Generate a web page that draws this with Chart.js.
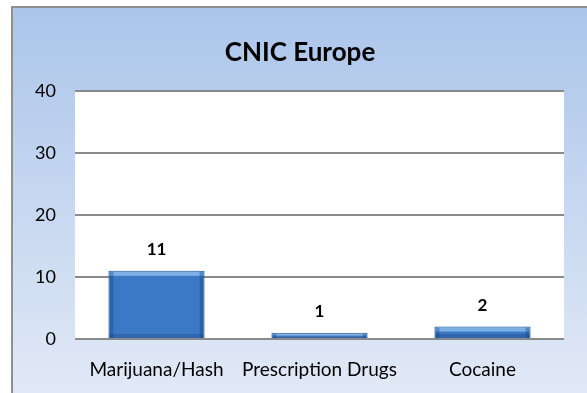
<!DOCTYPE html>
<html>
<head>
<meta charset="utf-8">
<script src="https://cdn.jsdelivr.net/npm/chart.js@4"></script>
<style>
  html, body { margin: 0; padding: 0; background: #fff; }
  #wrap { width: 587px; height: 393px; position: relative; }
</style>
</head>
<body>
<div id="wrap"><canvas id="drugChart" width="587" height="393"></canvas></div>
<script>
const categories = ["Marijuana/Hash", "Prescription Drugs", "Cocaine"];
const counts = [11, 1, 2];
const yTicks = [0, 10, 20, 30, 40];
const chartTitle = "CNIC Europe";

const fontFamily = "Lato, 'Liberation Sans', sans-serif";

// panel background + white plot area + title (centred on the whole panel)
const panelBackground = {
    id: "panelBackground",
    beforeDraw(chart) {
        let ctx = chart.ctx;
        let area = chart.chartArea;
        ctx.save();
        let g = ctx.createLinearGradient(0, 7, 0, chart.height);
        g.addColorStop(0, "#abc5ea");
        g.addColorStop(1, "#e1e9f6");
        ctx.fillStyle = g;
        ctx.fillRect(12, 7, chart.width, chart.height);
        ctx.strokeStyle = "#8f8f8f";
        ctx.lineWidth = 2;
        ctx.strokeRect(12, 7, chart.width + 10, chart.height + 10);
        ctx.fillStyle = "#ffffff";
        ctx.fillRect(area.left, area.top, area.right - area.left, area.bottom - area.top);

        ctx.fillStyle = "#000";
        ctx.font = "bold 26px " + fontFamily;
        ctx.textAlign = "center";
        ctx.textBaseline = "middle";
        ctx.fillText(chartTitle, 300, 53);
        ctx.restore();
    }
};

// bevel look and value labels
const barDecor = {
    id: "barDecor",
    afterDatasetsDraw(chart) {
        let ctx = chart.ctx;
        let meta = chart.getDatasetMeta(0);
        ctx.save();
        meta.data.forEach((bar, i) => {
            let left = bar.x - bar.width / 2;
            let right = bar.x + bar.width / 2;
            let top = bar.y;
            let bottom = bar.base;
            let h = bottom - top;
            let edge = Math.min(4, h / 2);
            // lighter top strip
            ctx.fillStyle = "rgba(150,195,240,0.75)";
            ctx.fillRect(left + 1, top + 1, right - left - 2, edge);
            // darker side strips
            ctx.fillStyle = "rgba(20,60,120,0.35)";
            ctx.fillRect(left + 1, top + 1, 4, h - 1);
            ctx.fillRect(right - 5, top + 1, 4, h - 1);
            ctx.fillStyle = "rgba(20,60,120,0.3)";
            ctx.fillRect(left + 1, bottom - edge, right - left - 2, edge);

            ctx.fillStyle = "#000";
            ctx.font = "bold 17px " + fontFamily;
            ctx.textAlign = "center";
            ctx.textBaseline = "middle";
            ctx.fillText(counts[i], bar.x, top - 21);
        });
        ctx.restore();
    }
};

let ctx = document.getElementById("drugChart").getContext("2d");

new Chart(ctx, {
    type: "bar",
    data: {
        labels: categories,
        datasets: [{
            data: counts,
            backgroundColor: "#3b79c6",
            borderColor: "#2a5a96",
            borderWidth: 1,
            categoryPercentage: 0.59,
            barPercentage: 1
        }]
    },
    options: {
        responsive: false,
        animation: false,
        layout: { padding: { left: 0, right: 23, top: 91, bottom: 0 } },
        plugins: {
            legend: { display: false },
            tooltip: { enabled: false },
            title: { display: false }
        },
        scales: {
            y: {
                min: 0,
                max: 40,
                afterBuildTicks: axis => { axis.ticks = yTicks.map(v => ({ value: v })); },
                afterFit: axis => { axis.width = 75; },
                border: { display: false },
                grid: { color: "#8a8a8a", lineWidth: 2, drawTicks: false },
                ticks: {
                    padding: 19,
                    color: "#000",
                    font: { family: fontFamily, size: 18 }
                }
            },
            x: {
                afterFit: axis => { axis.height = 54; },
                border: { display: false },
                grid: { display: false, drawTicks: false },
                ticks: {
                    padding: 19,
                    color: "#000",
                    font: { family: fontFamily, size: 19 }
                }
            }
        }
    },
    plugins: [panelBackground, barDecor]
});
</script>
</body>
</html>
